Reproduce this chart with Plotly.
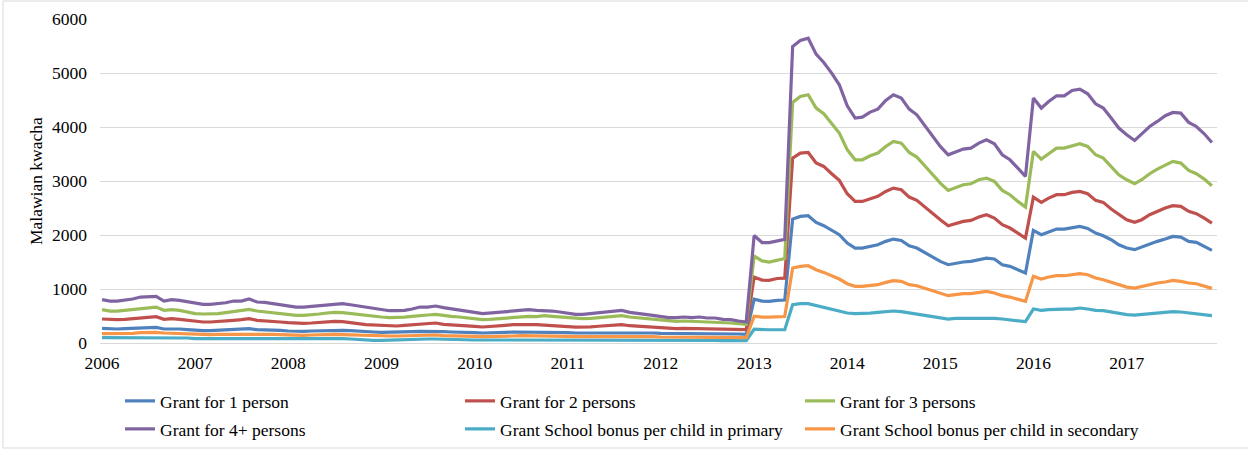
import pandas as pd
import plotly.graph_objects as go

# Monthly observations, Jan 2006 .. Dec 2017
months = pd.date_range("2006-01-01", periods=144, freq="MS")
year_ticks = [f"{y}-01-01" for y in range(2006, 2018)]
year_labels = [str(y) for y in range(2006, 2018)]

grant_1 = [
    271, 259, 259, 265, 271, 284, 290, 290, 259, 265, 259, 247,
    234, 228, 228, 234, 240, 247, 253, 265, 247, 247, 240, 234,
    222, 216, 216, 222, 228, 234, 240, 234, 228, 216, 210, 204,
    197, 197, 197, 204, 210, 216, 216, 222, 210, 204, 204, 197,
    191, 185, 185, 191, 197, 204, 204, 204, 197, 197, 197, 191,
    191, 185, 185, 185, 191, 191, 197, 197, 191, 191, 185, 185,
    179, 179, 179, 179, 179, 179, 179, 173, 173, 173, 167, 160,
    810, 775, 770, 790, 795, 2295, 2345, 2357, 2234, 2172, 2085, 2005,
    1851, 1758, 1758, 1789, 1820, 1882, 1925, 1900, 1801, 1758, 1678, 1604,
    1512, 1450, 1481, 1500, 1512, 1542, 1573, 1555, 1450, 1419, 1357, 1296,
    2085, 2005, 2055, 2110, 2110, 2141, 2160, 2122, 2036, 1987, 1913, 1820,
    1758, 1728, 1777, 1839, 1882, 1925, 1974, 1962, 1882, 1863, 1789, 1715,
]
grant_2 = [
    444, 432, 432, 438, 450, 469, 475, 487, 438, 450, 438, 420,
    395, 389, 389, 395, 407, 420, 432, 450, 420, 413, 401, 389,
    376, 364, 364, 370, 383, 395, 401, 395, 383, 358, 339, 333,
    321, 315, 315, 327, 339, 358, 358, 370, 346, 339, 333, 321,
    308, 296, 302, 315, 327, 339, 339, 346, 340, 330, 325, 315,
    305, 295, 295, 300, 310, 320, 330, 340, 320, 310, 300, 290,
    280, 270, 268, 272, 268, 272, 265, 262, 255, 252, 250, 247,
    1220, 1165, 1160, 1195, 1200, 3424, 3517, 3529, 3332, 3270, 3134, 3011,
    2764, 2622, 2622, 2665, 2715, 2807, 2869, 2838, 2702, 2641, 2517, 2406,
    2283, 2172, 2209, 2252, 2270, 2332, 2375, 2314, 2190, 2129, 2036, 1943,
    2702, 2604, 2684, 2746, 2746, 2789, 2807, 2764, 2641, 2604, 2480, 2375,
    2283, 2234, 2283, 2375, 2437, 2499, 2542, 2530, 2437, 2394, 2314, 2221,
]
grant_3 = [
    617, 592, 592, 605, 623, 642, 648, 666, 605, 617, 605, 580,
    543, 537, 537, 543, 561, 580, 598, 623, 592, 574, 555, 543,
    524, 512, 512, 518, 537, 555, 568, 561, 543, 524, 506, 494,
    481, 469, 469, 481, 494, 512, 518, 530, 506, 494, 481, 469,
    450, 432, 438, 450, 469, 481, 481, 494, 490, 506, 494, 481,
    469, 450, 450, 457, 469, 481, 494, 506, 481, 469, 450, 438,
    420, 407, 401, 407, 401, 407, 395, 395, 376, 370, 358, 346,
    1610, 1520, 1500, 1535, 1565, 4455, 4566, 4597, 4350, 4245, 4072, 3887,
    3579, 3393, 3393, 3468, 3517, 3640, 3733, 3702, 3529, 3443, 3282, 3116,
    2962, 2826, 2869, 2931, 2949, 3023, 3054, 2992, 2826, 2746, 2622, 2517,
    3548, 3406, 3505, 3609, 3609, 3653, 3690, 3640, 3486, 3424, 3270, 3116,
    3023, 2949, 3023, 3134, 3221, 3301, 3363, 3332, 3196, 3134, 3035, 2912,
]
grant_4plus = [
    802, 777, 777, 790, 814, 851, 851, 864, 777, 802, 790, 765,
    728, 716, 716, 728, 746, 777, 777, 814, 759, 753, 728, 703,
    679, 666, 666, 679, 703, 716, 728, 728, 709, 685, 666, 642,
    617, 598, 598, 605, 629, 666, 666, 685, 654, 635, 617, 592,
    568, 543, 555, 568, 592, 605, 605, 617, 605, 605, 592, 574,
    555, 530, 530, 543, 561, 574, 592, 605, 568, 555, 530, 512,
    494, 469, 469, 481, 469, 481, 463, 463, 438, 432, 407, 389,
    1990, 1860, 1860, 1895, 1920, 5491, 5602, 5645, 5350, 5195, 4998, 4782,
    4393, 4165, 4183, 4276, 4331, 4492, 4597, 4535, 4331, 4226, 4023, 3825,
    3640, 3486, 3529, 3591, 3609, 3702, 3764, 3690, 3486, 3393, 3239, 3085,
    4535, 4350, 4473, 4578, 4578, 4677, 4701, 4615, 4430, 4350, 4165, 3980,
    3856, 3751, 3874, 4010, 4103, 4208, 4270, 4257, 4085, 4010, 3874, 3714,
]
bonus_primary = [
    99, 99, 99, 99, 99, 99, 99, 99, 99, 99, 99, 93,
    80, 80, 80, 80, 93, 93, 93, 93, 93, 93, 93, 80,
    80, 80, 80, 80, 80, 86, 86, 80, 74, 62, 56, 50,
    50, 56, 62, 68, 68, 74, 74, 74, 68, 62, 62, 62,
    56, 56, 56, 56, 62, 62, 62, 62, 62, 62, 62, 56,
    56, 56, 50, 50, 50, 56, 56, 56, 56, 56, 56, 56,
    50, 50, 50, 50, 50, 50, 50, 50, 44, 44, 44, 44,
    255, 245, 245, 245, 245, 710, 728, 728, 691, 666, 629, 586,
    555, 543, 543, 555, 568, 580, 592, 580, 555, 543, 518, 494,
    463, 444, 457, 457, 457, 469, 469, 457, 444, 432, 413, 395,
    629, 605, 617, 629, 629, 629, 648, 629, 605, 598, 568, 543,
    524, 518, 530, 543, 555, 568, 580, 574, 555, 543, 524, 506,
]
bonus_secondary = [
    173, 173, 173, 173, 179, 191, 197, 197, 185, 179, 179, 173,
    160, 154, 154, 160, 160, 166, 166, 173, 166, 160, 160, 154,
    148, 142, 142, 148, 154, 154, 160, 154, 148, 142, 136, 136,
    130, 130, 130, 136, 136, 142, 148, 148, 136, 136, 130, 130,
    123, 117, 117, 123, 130, 130, 136, 136, 130, 130, 130, 123,
    123, 117, 117, 117, 123, 123, 130, 130, 123, 123, 117, 117,
    111, 111, 111, 111, 111, 111, 111, 105, 105, 105, 105, 99,
    495, 478, 478, 488, 490, 1388, 1419, 1431, 1357, 1308, 1246, 1185,
    1098, 1049, 1049, 1067, 1080, 1123, 1154, 1141, 1080, 1061, 1018, 975,
    925, 876, 895, 913, 913, 938, 956, 925, 876, 851, 814, 771,
    1234, 1185, 1222, 1246, 1246, 1265, 1283, 1265, 1203, 1172, 1123, 1080,
    1036, 1018, 1049, 1080, 1111, 1129, 1160, 1141, 1111, 1098, 1061, 1012,
]

series_names = [
    "Grant for 1 person", "Grant for 2 persons", "Grant for 3 persons",
    "Grant for 4+ persons", "Grant School bonus per child in primary",
    "Grant School bonus per child in secondary",
]
series_values = [grant_1, grant_2, grant_3, grant_4plus, bonus_primary, bonus_secondary]
series_colors = ["#4F81BD", "#C0504D", "#9BBB59", "#8064A2", "#4BACC6", "#F79646"]
legend_ids = ["legend", "legend", "legend", "legend2", "legend2", "legend2"]

FONT = "Liberation Serif"
FS = 17.5

fig = go.Figure()
for name, vals, col, lg in zip(series_names, series_values, series_colors, legend_ids):
    fig.add_trace(go.Scatter(
        x=months, y=vals, name=name, mode="lines", legend=lg,
        line=dict(color=col, width=3.2),
    ))

W, H = 1248, 450
L, R, T, B = 100, 31, 19, 107
PW, PH = W - L - R, H - T - B

def px_x(p):
    return (p - L) / PW

def px_y(p):
    return (H - B - p) / PH

legend_common = dict(
    orientation="h", xanchor="left", yanchor="top",
    font=dict(family=FONT, size=FS, color="#000000"),
    entrywidth=295, entrywidthmode="pixels", bgcolor="rgba(0,0,0,0)",
    borderwidth=0, itemclick=False, itemdoubleclick=False,
)

fig.update_layout(
    width=W, height=H,
    margin=dict(l=L, r=R, t=T, b=B, pad=0, autoexpand=False),
    paper_bgcolor="white", plot_bgcolor="white",
    font=dict(family=FONT, size=FS, color="#000000"),
    legend=dict(x=px_x(120), y=px_y(383), **legend_common),
    legend2=dict(x=px_x(120), y=px_y(411), **legend_common),
    xaxis=dict(
        type="date", range=["2005-12-24", "2017-12-21"],
        tickvals=year_ticks, ticktext=year_labels,
        showgrid=False, showline=True, linecolor="#D9D9D9", linewidth=1,
        ticks="", ticklabelstandoff=4,
        tickfont=dict(family=FONT, size=FS, color="#000000"),
        zeroline=False, fixedrange=True,
    ),
    yaxis=dict(
        range=[0, 6000], dtick=1000, tick0=0,
        showgrid=True, gridcolor="#D9D9D9", gridwidth=1,
        showline=False, zeroline=False, ticks="", ticklabelstandoff=12,
        tickfont=dict(family=FONT, size=FS, color="#000000"),
        fixedrange=True,
    ),
    annotations=[dict(
        text="Malawian kwacha", textangle=-90, showarrow=False,
        xref="paper", yref="paper", x=px_x(36), y=0.5,
        xanchor="center", yanchor="middle",
        font=dict(family=FONT, size=FS, color="#000000"),
    )],
    shapes=[dict(
        type="rect", xref="paper", yref="paper", layer="below",
        x0=px_x(3), x1=px_x(1252), y0=px_y(448), y1=px_y(1),
        line=dict(color="#D9D9D9", width=1), fillcolor="rgba(0,0,0,0)",
    )],
)

fig.write_html(
    "out.html",
    config={"displayModeBar": False, "staticPlot": True},
    post_script="document.body.style.margin='0px'; document.body.style.overflow='hidden';",
)
